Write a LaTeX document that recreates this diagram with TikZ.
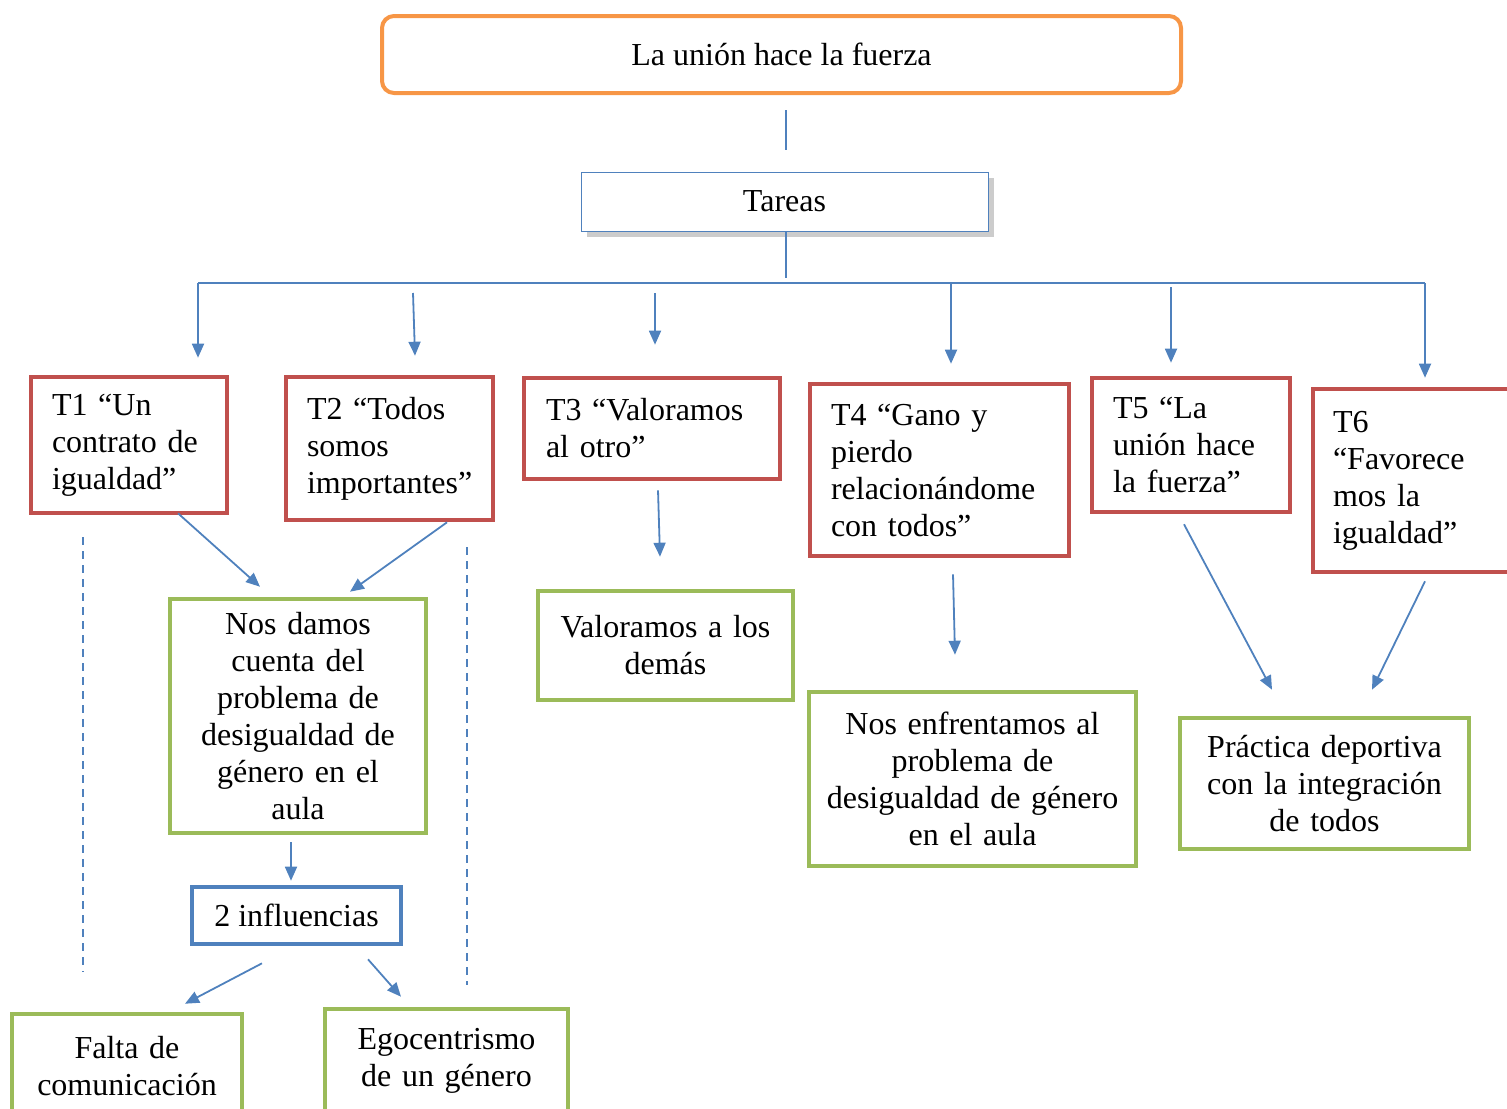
\documentclass[tikz,border=0pt]{standalone}
\usepackage{fontspec}
\setmainfont{Liberation Serif}
\usepackage{xcolor}
\usepackage{tikz}
\usetikzlibrary{positioning}
\usetikzlibrary{calc}
\usetikzlibrary{shadows}
\usetikzlibrary{arrows.meta}

\definecolor{rojo}{HTML}{C0504D}
\definecolor{verde}{HTML}{9BBB59}
\definecolor{azul}{HTML}{4F81BD}
\definecolor{naranja}{HTML}{F79646}

\begin{document}
\begin{tikzpicture}
  [
    x=0.5pt, y=-0.5pt,
    caja/.style={rectangle, inner sep=0pt, font=\fontsize{16}{18.5}\selectfont},
    titulo/.style={caja, draw=naranja, line width=2pt, rounded corners=6pt},
    tareas/.style={caja, draw=azul, line width=0.5pt, fill=white,
      drop shadow={shadow xshift=3pt, shadow yshift=-3pt, fill=black!40, opacity=.5}},
    tarea/.style={caja, draw=rojo, line width=2.3pt, align=left},
    meta/.style={caja, draw=verde, line width=2.3pt, align=center},
    influ/.style={caja, draw=azul, line width=2.3pt},
    linea/.style={draw=azul, line width=0.9pt},
    flecha/.style={linea, -{Triangle[length=7pt,width=6pt]}},
    guia/.style={draw=azul, line width=0.6pt, dash pattern=on 4pt off 3pt}
  ]

  \clip (0,0) rectangle (1507,1108);

  \node (top)    at ( 781.5, 54.5) [titulo, minimum width=399.5pt, minimum height=38.5pt] {La unión hace la fuerza};
  \node (tareas) at ( 784.5,201.5) [tareas, minimum width=203.5pt, minimum height=29.5pt] {Tareas};

  \node (t1) at ( 129  ,445  ) [tarea, minimum width= 98  pt, minimum height=68  pt, text width= 77  pt] {T1 “Un\\contrato de\\igualdad”};
  \node (t2) at ( 389.5,448.5) [tarea, minimum width=103.5pt, minimum height=71.5pt, text width= 82.5pt] {T2 “Todos\\somos\\importantes”};
  \node (t3) at ( 652  ,428.5) [tarea, minimum width=128  pt, minimum height=50.5pt, text width=106  pt] {T3 “Valoramos\\al otro”};
  \node (t4) at ( 939.5,470  ) [tarea, minimum width=129.5pt, minimum height=86  pt, text width=108.5pt] {T4 “Gano y\\pierdo\\relacionándome\\con todos”};
  \node (t5) at (1191  ,445  ) [tarea, minimum width= 99  pt, minimum height=67  pt, text width= 78  pt] {T5 “La\\unión hace\\la fuerza”};
  \node (t6) at (1423  ,480.5) [tarea, minimum width=110  pt, minimum height=91.5pt, text width= 90  pt] {T6\\“Favorece\\mos la\\igualdad”};

  \node (g1) at ( 298  ,716  ) [meta, minimum width=128  pt, minimum height=117 pt, text width=120pt] {Nos damos\\cuenta del\\problema de\\desigualdad de\\género en el\\aula};
  \node (g3) at ( 665.5,645.5) [meta, minimum width=127.5pt, minimum height=54.5pt, text width=120pt] {Valoramos a los\\demás};
  \node (g4) at ( 972.5,779  ) [meta, minimum width=163.5pt, minimum height=87  pt, text width=155pt] {Nos enfrentamos al\\problema de\\desigualdad de género\\en el aula};
  \node (g5) at (1324.5,783.5) [meta, minimum width=144.5pt, minimum height=65.5pt, text width=135pt] {Práctica deportiva\\con la integración\\de todos};

  \node (inf)   at ( 296.5, 915.5) [influ, minimum width=104.5pt, minimum height=28.5pt] {2 influencias};
  \node (falta) at ( 127  ,1066  ) [meta, minimum width=115  pt, minimum height=52  pt, text width=110pt] {Falta de\\comunicación};
  \node (ego)   at ( 446.5,1061  ) [meta, minimum width=121.5pt, minimum height=52  pt, text width=115pt] {Egocentrismo\\de un género};

  \coordinate (barra1) at ( 198,283);
  \coordinate (barra2) at ( 413,283);
  \coordinate (barra3) at ( 655,283);
  \coordinate (barra4) at ( 951,283);
  \coordinate (barra5) at (1171,283);
  \coordinate (barra6) at (1425,283);

  \draw [linea] ([xshift=0.75pt, yshift=-7.5pt]top.south -| tareas.north) -- ([xshift=0.75pt, yshift=11pt]tareas.north);
  \draw [linea] ([xshift=0.75pt]tareas.south) -- ([xshift=0.75pt, yshift=2.5pt]tareas.south |- barra1);
  \draw [linea] (barra1) -- (barra6);

  \draw [flecha] (barra1) -- ([yshift=8.5pt]barra1 |- t1.north);
  \draw [flecha] ([yshift=-5pt]barra2) -- ([xshift=1pt, yshift=9.5pt]barra2 |- t2.north);
  \draw [flecha] ([yshift=-5pt]barra3) -- ([yshift=15.5pt]barra3 |- t3.north);
  \draw [flecha] (barra4) -- ([yshift=9pt]barra4 |- t4.north);
  \draw [flecha] ([yshift=-2pt]barra5) -- ([yshift=6.5pt]barra5 |- t5.north);
  \draw [flecha] (barra6) -- ([yshift=4.5pt]barra6 |- t6.north);

  \draw [flecha] ([xshift=24.5pt, yshift=1pt]t1.south) -- ([xshift=-19pt, yshift=5pt]g1.north);
  \draw [flecha] ([xshift=28.75pt]t2.south) -- ([xshift=26pt, yshift=2.5pt]g1.north);
  \draw [flecha] ([xshift=3pt, yshift=-4.5pt]t3.south) -- ([xshift=-2.75pt, yshift=16pt]g3.north);
  \draw [flecha] ([xshift=6.75pt, yshift=-8pt]t4.south) -- ([xshift=-8.75pt, yshift=17.5pt]g4.north);
  \draw [flecha] ([xshift=-3.5pt, yshift=-5pt]t5.south) -- ([xshift=-26.25pt, yshift=13pt]g5.north);
  \draw [flecha] ([xshift=1pt, yshift=-3.5pt]t6.south) -- ([xshift=23.75pt, yshift=13pt]g5.north);

  \draw [flecha] ([xshift=-3.5pt, yshift=-3.5pt]g1.south) -- ([xshift=-2.75pt, yshift=2pt]inf.north);
  \draw [flecha] ([xshift=-17.25pt, yshift=-8.5pt]inf.south) -- ([xshift=29pt, yshift=4pt]falta.north);
  \draw [flecha] ([xshift=35.75pt, yshift=-6.5pt]inf.south) -- ([xshift=-22.75pt, yshift=5pt]ego.north);

  \draw [guia] ( 83,537) -- ( 83,972);
  \draw [guia] (467,547) -- (467,985);
\end{tikzpicture}
\end{document}
